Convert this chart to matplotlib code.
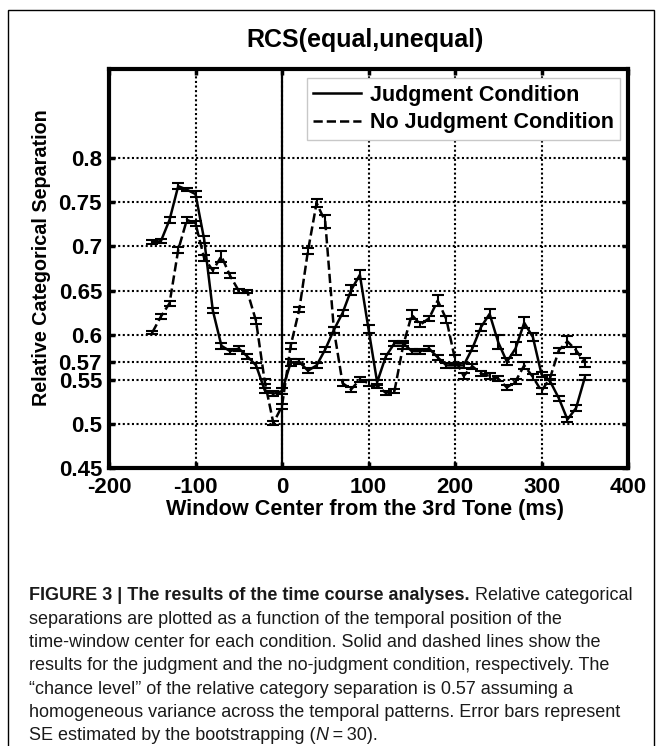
import matplotlib
matplotlib.use('Agg')
import matplotlib.pyplot as plt
from matplotlib.lines import Line2D
from matplotlib.patches import Rectangle
from matplotlib import font_manager

# ---------------- data ----------------
window_ms = list(range(-150, 351, 10))

judgment = [0.705, 0.706, 0.730, 0.768, 0.764, 0.759, 0.708, 0.628, 0.588, 0.582,
            0.585, 0.576, 0.566, 0.538, 0.534, 0.537, 0.569, 0.570, 0.560, 0.566,
            0.584, 0.606, 0.625, 0.651, 0.668, 0.607, 0.547, 0.576, 0.591, 0.591,
            0.582, 0.582, 0.585, 0.575, 0.566, 0.566, 0.566, 0.585, 0.609, 0.624,
            0.592, 0.570, 0.585, 0.614, 0.598, 0.556, 0.548, 0.529, 0.505, 0.518,
            0.552]
judgment_se = [0.002, 0.002, 0.003, 0.003, 0.002, 0.003, 0.004, 0.003, 0.003, 0.003,
               0.003, 0.003, 0.003, 0.003, 0.003, 0.003, 0.004, 0.003, 0.003, 0.003,
               0.003, 0.003, 0.003, 0.006, 0.005, 0.004, 0.003, 0.003, 0.003, 0.003,
               0.003, 0.003, 0.003, 0.003, 0.003, 0.003, 0.003, 0.003, 0.004, 0.005,
               0.008, 0.004, 0.007, 0.006, 0.004, 0.003, 0.003, 0.003, 0.003, 0.003,
               0.003]

no_judgment = [0.603, 0.621, 0.636, 0.696, 0.730, 0.726, 0.687, 0.673, 0.689, 0.667,
               0.650, 0.649, 0.616, 0.548, 0.501, 0.520, 0.588, 0.629, 0.695, 0.749,
               0.728, 0.606, 0.546, 0.539, 0.550, 0.546, 0.543, 0.535, 0.537, 0.588,
               0.623, 0.612, 0.619, 0.639, 0.618, 0.573, 0.554, 0.565, 0.557, 0.554,
               0.551, 0.541, 0.548, 0.566, 0.553, 0.537, 0.552, 0.583, 0.593, 0.583,
               0.569]
no_judgment_se = [0.002, 0.003, 0.003, 0.003, 0.003, 0.003, 0.003, 0.003, 0.006, 0.003,
                  0.002, 0.002, 0.003, 0.003, 0.002, 0.003, 0.003, 0.003, 0.003, 0.004,
                  0.007, 0.003, 0.003, 0.003, 0.003, 0.003, 0.002, 0.002, 0.002, 0.003,
                  0.005, 0.003, 0.003, 0.006, 0.004, 0.005, 0.003, 0.003, 0.003, 0.003,
                  0.003, 0.003, 0.003, 0.004, 0.003, 0.003, 0.003, 0.003, 0.006, 0.004,
                  0.005]

x_ticks = [-200, -100, 0, 100, 200, 300, 400]
x_tick_labels = ['-200', '-100', '0', '100', '200', '300', '400']
y_ticks = [0.45, 0.5, 0.55, 0.57, 0.6, 0.65, 0.7, 0.75, 0.8]
y_tick_labels = ['0.45', '0.5', '0.55', '0.57', '0.6', '0.65', '0.7', '0.75', '0.8']

legend_labels = ['Judgment Condition', 'No Judgment Condition']
title_text = 'RCS(equal,unequal)'
xlabel_text = 'Window Center from the 3rd Tone (ms)'
ylabel_text = 'Relative Categorical Separation'

caption_lines = [
    [('FIGURE 3 | The results of the time course analyses.', 'bold', 'normal'),
     (' Relative categorical', 'normal', 'normal')],
    [('separations are plotted as a function of the temporal position of the', 'normal', 'normal')],
    [('time-window center for each condition. Solid and dashed lines show the', 'normal', 'normal')],
    [('results for the judgment and the no-judgment condition, respectively. The', 'normal', 'normal')],
    [('\u201cchance level\u201d of the relative category separation is 0.57 assuming a', 'normal', 'normal')],
    [('homogeneous variance across the temporal patterns. Error bars represent', 'normal', 'normal')],
    [('SE estimated by the bootstrapping (', 'normal', 'normal'), ('N', 'normal', 'italic'),
     ('\u2009=\u200930).', 'normal', 'normal')],
]

# ---------------- fonts ----------------
available = {f.name for f in font_manager.fontManager.ttflist}
main_font = 'Liberation Sans' if 'Liberation Sans' in available else 'DejaVu Sans'
cap_font = 'Liberation Sans Narrow' if 'Liberation Sans Narrow' in available else main_font
plt.rcParams['font.family'] = [main_font, 'DejaVu Sans']

W, H = 662, 746
fig = plt.figure(figsize=(W / 100, H / 100), dpi=100)
fig.patch.set_facecolor('white')

ax = fig.add_axes([109 / W, 1 - 468.3 / H, 519 / W, 399.3 / H])

ax.errorbar(window_ms, judgment, yerr=judgment_se, color='black', linestyle='-',
            linewidth=1.8, elinewidth=1.5, capsize=4, capthick=1.5, zorder=4)
ax.errorbar(window_ms, no_judgment, yerr=no_judgment_se, color='black', linestyle='--',
            linewidth=1.8, elinewidth=1.5, capsize=4, capthick=1.5, zorder=4)

ax.axvline(0, color='black', linewidth=1.6, zorder=3)

ax.set_xlim(-200, 400)
ax.set_ylim(0.45, 0.9)
ax.set_xticks(x_ticks)
ax.set_xticklabels(x_tick_labels)
ax.set_yticks(y_ticks)
ax.set_yticklabels(y_tick_labels)

ax.grid(True, color='black', linestyle=(0, (1, 1.2)), linewidth=1.5, zorder=1)
ax.set_axisbelow(True)

for sp in ax.spines.values():
    sp.set_linewidth(3)
ax.tick_params(direction='in', length=4, width=2.5, top=True, right=True,
               labelsize=16)
ax.tick_params(axis='x', pad=6)
ax.tick_params(axis='y', pad=5)
for lab in ax.get_xticklabels() + ax.get_yticklabels():
    lab.set_fontweight('bold')

handles = [Line2D([], [], color='black', linestyle='-', linewidth=1.8),
           Line2D([], [], color='black', linestyle='--', linewidth=1.8)]
leg = ax.legend(handles, legend_labels, loc='upper right', bbox_to_anchor=(0.985, 0.977),
                borderaxespad=0, fancybox=False, framealpha=1, edgecolor='#c8c8c8',
                prop={'family': main_font, 'weight': 'bold', 'size': 15.5},
                handlelength=2.2, handletextpad=0.42, labelspacing=0.3,
                borderpad=0.3)
leg.get_frame().set_linewidth(1.0)
leg.set_zorder(10)

fig.text(365 / W, 1 - 40 / H, title_text, ha='center', va='center',
         fontsize=18, fontweight='bold')
fig.text(42 / W, 1 - 258 / H, ylabel_text, ha='center', va='center',
         rotation=90, fontsize=14.2, fontweight='bold')
fig.text(365 / W, 1 - 509 / H, xlabel_text, ha='center', va='center',
         fontsize=15.6, fontweight='bold')

# caption
renderer = fig.canvas.get_renderer()
y0 = 596
dy = 23.3
for i, segs in enumerate(caption_lines):
    xpix = 29
    ypix = y0 + i * dy
    for txt, weight, style in segs:
        t = fig.text(xpix / W, 1 - ypix / H, txt, ha='left', va='center',
                     fontsize=13, fontweight=weight, fontstyle=style,
                     family=[cap_font, 'DejaVu Sans'], color='#1a1a1a')
        bb = t.get_window_extent(renderer=renderer)
        xpix += bb.width

# figure frame
fig.patches.append(Rectangle((8 / W, -0.05), (654 - 8) / W, 1.05 - 10 / H,
                             transform=fig.transFigure, fill=False,
                             edgecolor='black', linewidth=1.0))

fig.savefig('out.png', dpi=100)
